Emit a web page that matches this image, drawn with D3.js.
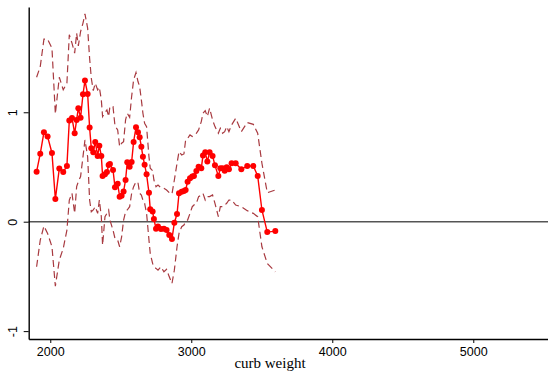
<!DOCTYPE html>
<html>
<head>
<meta charset="utf-8">
<script src="https://cdn.jsdelivr.net/npm/d3@7"></script>
<style>
  body { margin: 0; background: #fff; }
  svg { display: block; }
</style>
</head>
<body>
<svg id="chart" width="548" height="371"></svg>
<script>
// curb weight values of the points
const weight = [1903, 1929, 1955, 1981, 2012, 2036, 2064, 2092, 2118, 2135,
  2154, 2173, 2187, 2199, 2215, 2232, 2246, 2265, 2279, 2291,
  2305, 2319, 2336, 2348, 2362, 2371, 2388, 2402, 2414, 2423,
  2445, 2459, 2478, 2492, 2506, 2520, 2534, 2546, 2563, 2577,
  2591, 2608, 2622, 2634, 2646, 2657, 2669, 2683, 2700, 2709,
  2726, 2735, 2750, 2764, 2785, 2806, 2825, 2844, 2863, 2880,
  2899, 2913, 2932, 2948, 2960, 2974, 2991, 3007, 3019, 3036,
  3052, 3071, 3083, 3099, 3114, 3130, 3151, 3168, 3192, 3206,
  3222, 3237, 3251, 3267, 3286, 3315, 3355, 3397, 3440, 3471,
  3501, 3539, 3596];

const fit = [0.457, 0.622, 0.817, 0.778, 0.628, 0.207, 0.485, 0.454, 0.509, 0.924,
  0.948, 0.808, 0.930, 1.037, 0.951, 1.165, 1.290, 1.168, 0.860, 0.671,
  0.634, 0.729, 0.601, 0.695, 0.601, 0.418, 0.433, 0.454, 0.518, 0.527,
  0.473, 0.314, 0.347, 0.229, 0.238, 0.277, 0.381, 0.543, 0.503, 0.546,
  0.729, 0.863, 0.817, 0.771, 0.686, 0.594, 0.521, 0.433, 0.265, 0.113,
  0.094, 0.024, -0.064, -0.043, -0.067, -0.064, -0.077, -0.122, -0.159, -0.009,
  0.070, 0.259, 0.274, 0.280, 0.290, 0.366, 0.396, 0.412, 0.418, 0.463,
  0.503, 0.488, 0.604, 0.634, 0.549, 0.634, 0.601, 0.515, 0.418, 0.488,
  0.488, 0.466, 0.497, 0.479, 0.534, 0.534, 0.479, 0.509, 0.509, 0.418,
  0.107, -0.095, -0.086];

const upper = [1.320, 1.418, 1.668, 1.668, 1.586, 0.985, 1.320, 1.205, 1.266, 1.708,
  1.632, 1.540, 1.723, 1.607, 1.738, 1.815, 1.900, 1.769, 1.494, 1.311,
  1.198, 1.266, 1.205, 1.229, 1.113, 0.961, 0.997, 1.022, 0.961, 1.052,
  1.052, 0.875, 0.839, 0.686, 0.717, 0.732, 0.930, 0.991, 0.954, 1.144,
  1.296, 1.363, 1.281, 1.235, 1.113, 0.991, 0.900, 0.869, 0.594, 0.488,
  0.466, 0.381, 0.320, 0.335, 0.311, 0.305, 0.290, 0.265, 0.253, 0.381,
  0.534, 0.640, 0.610, 0.619, 0.747, 0.762, 0.793, 0.778, 0.793, 0.808,
  0.839, 0.915, 0.991, 1.015, 0.961, 1.037, 0.930, 0.869, 0.808, 0.854,
  0.808, 0.823, 0.869, 0.823, 0.884, 0.945, 0.823, 0.906, 0.890, 0.808,
  0.534, 0.265, 0.290];

const lower = [-0.412, -0.168, -0.040, -0.107, -0.229, -0.589, -0.351, -0.244, -0.077, 0.198,
  0.259, 0.076, 0.320, 0.366, 0.412, 0.594, 0.747, 0.594, 0.198, 0.091,
  0.107, 0.137, 0.076, 0.198, 0.046, -0.214, 0.046, 0.076, 0.107, 0.015,
  -0.077, -0.153, -0.168, -0.229, -0.138, 0.015, 0.091, 0.107, 0.137, 0.259,
  0.320, 0.366, 0.357, 0.259, 0.244, 0.198, 0.168, 0.076, -0.168, -0.290,
  -0.382, -0.412, -0.427, -0.443, -0.412, -0.458, -0.436, -0.504, -0.565, -0.443,
  -0.229, -0.107, -0.046, -0.031, 0.000, 0.015, 0.076, 0.137, 0.152, 0.168,
  0.229, 0.244, 0.259, 0.198, 0.229, 0.229, 0.244, 0.168, 0.046, 0.137,
  0.137, 0.152, 0.168, 0.198, 0.198, 0.152, 0.137, 0.101, 0.076, 0.046,
  -0.229, -0.382, -0.458];

const xTicks = [2000, 3000, 4000, 5000];
const yTicks = [-1, 0, 1];

const svg = d3.select('#chart');
const width = 548, height = 371;
const margin = {top: 7, right: 0, bottom: 32, left: 28.7};

const x = d3.scaleLinear()
  .domain([1847, 5530])
  .range([margin.left, width - margin.right]);

const y = d3.scaleLinear()
  .domain([-1.072, 1.962])
  .range([height - margin.bottom, margin.top]);

// zero reference line
svg.append('line')
  .attr('x1', margin.left).attr('x2', width)
  .attr('y1', y(0)).attr('y2', y(0))
  .attr('stroke', '#555')
  .attr('stroke-width', 1.6);

const line = d3.line()
  .x((d, i) => x(weight[i]))
  .y(d => y(d));

// confidence bands
svg.append('g')
    .attr('fill', 'none')
    .attr('stroke', '#a83a40')
    .attr('stroke-width', 1.2)
    .attr('stroke-dasharray', '7,4')
  .selectAll('path')
  .data([upper, lower])
  .join('path')
    .attr('d', d => line(d));

// fitted line
svg.append('path')
  .attr('fill', 'none')
  .attr('stroke', '#ff0000')
  .attr('stroke-width', 1.4)
  .attr('d', line(fit));

svg.append('g')
    .attr('fill', '#ff0000')
  .selectAll('circle')
  .data(fit)
  .join('circle')
    .attr('cx', (d, i) => x(weight[i]))
    .attr('cy', d => y(d))
    .attr('r', 3);

const xAxis = g => g
  .attr('transform', `translate(0,${height - margin.bottom})`)
  .call(d3.axisBottom(x).tickValues(xTicks).tickSize(4).tickSizeOuter(0).tickFormat(d => String(d)))
  .call(g => g.select('.domain').attr('stroke-width', 1.4))
  .call(g => g.selectAll('.tick line').attr('stroke-width', 1))
  .call(g => g.selectAll('.tick text')
    .attr('font-family', '"Liberation Sans", Arial, sans-serif')
    .attr('font-size', 12.5)
    .attr('y', 8));

const yAxis = g => g
  .attr('transform', `translate(${margin.left},0)`)
  .call(d3.axisLeft(y).tickValues(yTicks).tickSize(5).tickSizeOuter(0).tickFormat(d => String(d)))
  .call(g => g.select('.domain').attr('stroke-width', 1.4))
  .call(g => g.selectAll('.tick text')
    .attr('font-family', '"Liberation Sans", Arial, sans-serif')
    .attr('font-size', 12.5)
    .attr('text-anchor', 'middle')
    .attr('transform', 'rotate(-90)')
    .attr('x', 0)
    .attr('y', -12)
    .attr('dy', 0));

svg.append('g').call(xAxis);
svg.append('g').call(yAxis);

svg.append('text')
  .attr('x', 270)
  .attr('y', 368)
  .attr('text-anchor', 'middle')
  .attr('font-family', '"Liberation Serif", "DejaVu Serif", serif')
  .attr('font-size', 15)
  .text('curb weight');
</script>
</body>
</html>
